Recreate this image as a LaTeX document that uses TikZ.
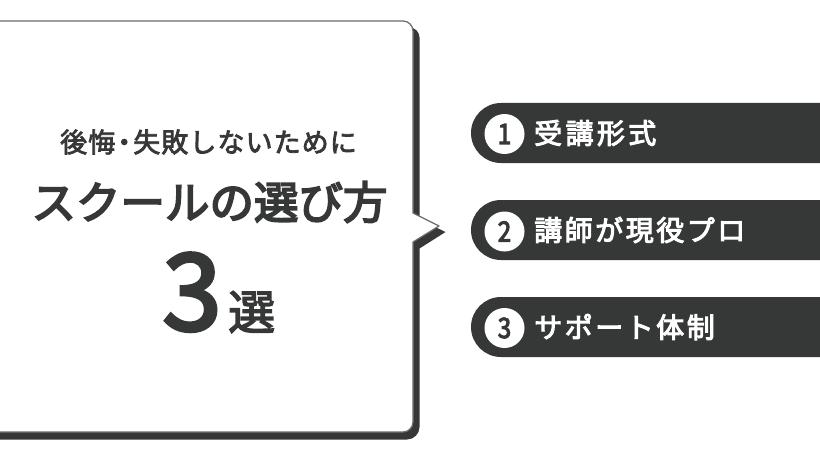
\documentclass[tikz,border=0pt]{standalone}
\usepackage{fontspec}
\setmainfont{Noto Sans CJK JP}
\newfontfamily\jpsp[LetterSpace=9]{Noto Sans CJK JP}
\newfontfamily\jpspw[LetterSpace=12]{Noto Sans CJK JP}
\newfontfamily\jpsub[LetterSpace=4]{Noto Sans CJK JP}
\newfontfamily\jpnum[FakeStretch=0.85]{Noto Sans CJK JP}
\newcommand{\heavy}[2]{\special{pdf:literal direct #1 w 2 Tr}#2\special{pdf:literal direct 0 Tr}}
\definecolor{ink}{HTML}{363837}
\definecolor{edge}{HTML}{6A6B6B}
\tikzset{
  x=1pt,y=-1pt,
  pill/.style={fill=ink,draw=none},
  badge/.style={circle,fill=white,draw=none,minimum size=40pt,inner sep=0pt,text=ink,font=\jpnum\fontsize{28}{28}\selectfont},
  pilltext/.style={anchor=west,inner sep=0pt,text=white,font=\jpsp\fontsize{28}{28}\selectfont},
  headtext/.style={inner sep=0pt,text=ink},
}
\begin{document}
\begin{tikzpicture}
\useasboundingbox (0,0) rectangle (820,460);
\fill[white] (0,0) rectangle (820,460);
% shadow band of the speech box
\fill[ink,line join=round] (-10,27.5) -- (409.5,27.5) arc[start angle=-90,end angle=0,radius=10] -- (419.5,219.5) -- (445.5,232) -- (419.5,248.5) -- (419.5,427) arc[start angle=0,end angle=90,radius=12.5] -- (-10,439.5) -- cycle;
% the box itself
\filldraw[fill=white,draw=edge,line width=1.2pt,line join=round] (-10,21) -- (403,21) arc[start angle=-90,end angle=0,radius=10] -- (413,213) -- (439,226) -- (413,242) -- (413,422) arc[start angle=0,end angle=90,radius=10] -- (-10,432) -- cycle;
% headings
\node[headtext] (h1) at (208.5,142) {\jpsub\fontsize{27}{27}\selectfont \heavy{0.8}{後悔\kern-4.5pt・\kern-4.5pt失敗しないために}};
\node[headtext] (h2) at (209.5,202) {\fontsize{44.5}{44.5}\selectfont \heavy{1.8}{スクールの選び方}};
\node[headtext,anchor=base west] (h3) at (162.5,330) {\fontsize{106}{106}\selectfont \heavy{3.8}{3}};
\node[headtext,anchor=base west] (h4) at (228,329.5) {\fontsize{47}{47}\selectfont \heavy{1.4}{選}};
% pills
\fill[pill] (850,103) -- (501,103) arc[start angle=-90,end angle=-270,radius=30] -- (850,163) -- cycle;
\fill[pill] (850,200) -- (501,200) arc[start angle=-90,end angle=-270,radius=30] -- (850,260) -- cycle;
\fill[pill] (850,297) -- (501,297) arc[start angle=-90,end angle=-270,radius=30] -- (850,357) -- cycle;
\node[badge] (b1) at (504.5,134) {\heavy{1.1}{1}};
\node[badge] (b2) at (504.5,231.5) {\heavy{1.1}{2}};
\node[badge] (b3) at (504.5,328) {\heavy{1.1}{3}};
\node[pilltext] (t1) at (534,133) {\jpspw\heavy{1.0}{受講形式}};
\node[pilltext] (t2) at (534,230) {\heavy{1.0}{講師が現役プロ}};
\node[pilltext] (t3) at (534,327) {\heavy{1.0}{サポート体制}};
\end{tikzpicture}
\end{document}
